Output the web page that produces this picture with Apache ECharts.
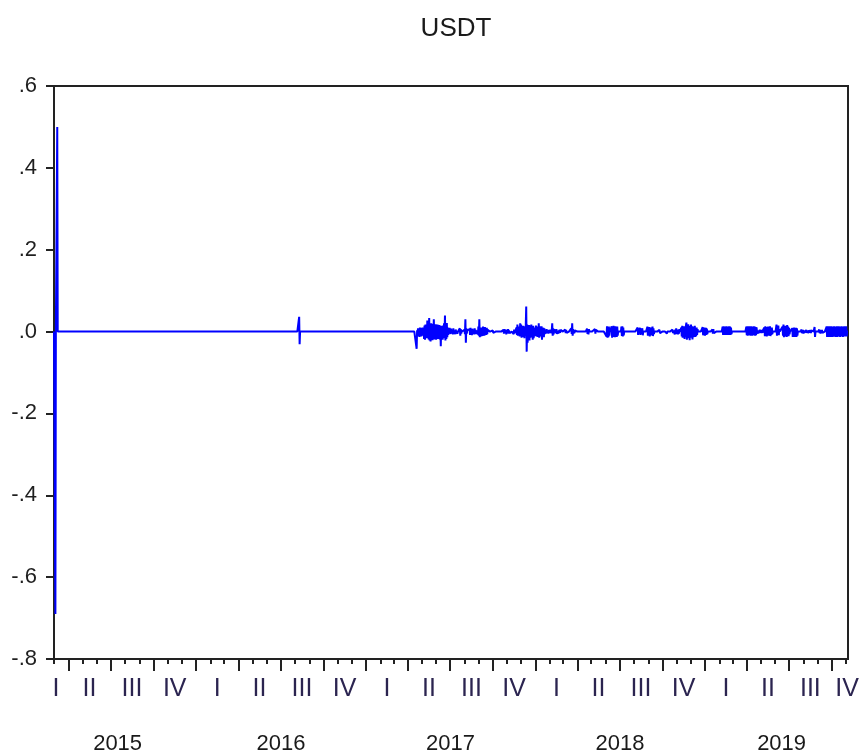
<!DOCTYPE html>
<html><head><meta charset="utf-8">
<script src="https://cdn.jsdelivr.net/npm/echarts@6/dist/echarts.min.js"></script>
<style>html,body{margin:0;padding:0;background:#fff}#c{width:859px;height:756px}</style>
</head><body><div id="c"></div>
<script>
// ---------- data ----------
const chartTitle = 'USDT';
const axisStart = '2015-03-01';
const axisEnd = '2019-11-05';
const yMin = -0.8, yMax = 0.6, yStep = 0.2;
const quarterNames = ['I', 'II', 'III', 'IV'];
const years = [2015, 2016, 2017, 2018, 2019];
const yearLabelDates = ['2015-07-16', '2016-07-02', '2017-07-02', '2018-07-02', '2019-06-15'];

// Daily returns: each run starts at a date and lists consecutive daily values; other days are 0.
const clusterStarts = [
  '2015-03-04', '2015-03-08', '2016-08-10',
  '2017-04-20', '2017-07-22', '2017-08-01', '2017-08-12', '2017-08-29', '2017-10-01', '2017-10-24',
  '2017-11-15', '2017-11-21', '2018-01-22', '2018-02-06', '2018-02-13', '2018-03-06', '2018-03-19',
  '2018-04-22', '2018-05-09', '2018-06-03', '2018-06-14', '2018-07-05', '2018-08-09', '2018-08-30',
  '2018-09-25', '2018-10-10', '2018-10-23', '2018-10-27', '2018-11-11', '2018-12-27', '2019-01-17',
  '2019-02-08', '2019-03-21', '2019-03-31', '2019-04-24', '2019-05-09', '2019-06-04', '2019-06-17',
  '2019-07-08', '2019-07-28', '2019-08-07', '2019-08-25', '2019-09-04', '2019-09-20'
];
const clusterValues = [
  [-0.69], [0.50], [0.036, -0.031],
  [-0.042, 0.003, -0.004,
   0.008, -0.011, 0.006, -0.013, 0.010, -0.007, 0.009, -0.012, 0.005, -0.010, 0.010, -0.006, 0.008,
   -0.018, 0.015, -0.020, 0.017, -0.012, 0.014, -0.016,
   0.027, -0.015, 0.018, -0.019,
   0.033, -0.022, 0.016, -0.024, 0.020, -0.014, 0.019, -0.021, 0.012,
   -0.017, 0.030, -0.019, 0.014, -0.016,
   0.018, -0.020, 0.012, -0.015, 0.017, -0.018, 0.010, -0.013, 0.016, -0.019, 0.011,
   -0.036, 0.014, -0.017, 0.012, -0.020, 0.015, -0.012,
   0.020, -0.016, 0.039, -0.022, 0.017, -0.018, 0.021, -0.014, 0.010,
   -0.008, 0.006, -0.005, 0.009, 0, -0.006, 0.007, -0.004, 0.005, 0, -0.007, 0.008, -0.005, 0, 0.004, -0.006, 0.005, 0, -0.003, 0.004, -0.005],
  [0.008, -0.010, 0.006, -0.005],
  [0.004, -0.006, 0.030, -0.027, 0.008, -0.005, 0.003],
  [0.006, -0.008, 0.009, -0.004, 0.005, -0.009, 0.007, -0.006, 0, 0.005, -0.007, 0.008, -0.005, 0.004, -0.006, 0.003],
  [0.005, -0.007, 0.012, -0.010, 0.030, -0.014, 0.009, -0.012, 0.010, -0.008, 0.007, -0.011, 0.012, -0.009, 0.008, -0.010, 0.011, -0.007, 0.006, -0.008, 0.009, -0.006, 0.004],
  [0.003, -0.003],
  [0.004, -0.005, 0.006, -0.003, 0, 0.005, -0.007, 0.004, -0.004, 0, 0.006, -0.005, 0.003, -0.004],
  [-0.006, 0.005, -0.004],
  [0.010, -0.008, 0.017, -0.010, 0.012, -0.006, 0.009,
   -0.012, 0.020, -0.009,
   0.017, -0.015, 0.011, -0.013, 0.014,
   -0.010, 0.013, -0.016, 0.012, -0.011, 0.015,
   0.061, -0.049,
   0.017, -0.027, 0.014, -0.018, 0.016, -0.022, 0.013, -0.015,
   0.012, 0.017, -0.014, 0.011, -0.020, 0.014, -0.016, 0.010,
   -0.012, 0.009, -0.010, 0.015, -0.011, 0.012, -0.013,
   0.010, -0.009, 0.020, -0.015, 0.013, -0.012, 0.011, -0.010,
   0.013, -0.020, 0.010, -0.012, 0.009, -0.014, 0.008, -0.006],
  [0.004, -0.005, 0, 0.006, -0.004, 0, 0.003, -0.005, 0.004, 0, -0.003, 0.005, -0.004, 0, 0.003],
  [0.020, -0.010, 0.008, -0.007, 0.006],
  [0.005, -0.004, 0.006, -0.006, 0, 0.004, -0.005, 0.003, -0.004, 0.005, -0.003, 0.004],
  [0.005, -0.004, 0.004, -0.003],
  [0.008, -0.006, 0.020, -0.010, 0.006, -0.005, 0.004, -0.004, 0.003],
  [0.007, -0.006, 0.005, -0.007, 0.006],
  [0.006, -0.005, 0.004],
  [-0.012, 0.013, -0.015, 0.011, -0.014, 0.012, -0.010],
  [0.013, -0.015, 0.012, -0.013, 0.014, -0.011, 0.010, -0.014, 0.013, -0.012, 0.011, -0.013, 0.012, -0.010],
  [0.012, -0.011, 0.013, -0.012, 0.010, -0.009],
  [0.010, -0.008, 0, 0, 0, 0.009, -0.008, 0, 0, 0, 0.008, -0.009],
  [0.012, -0.010, 0, 0, 0.011, -0.012, 0, 0.010, -0.009, 0, 0, 0.012, -0.011, 0.008, -0.006],
  [0.004, -0.004],
  [0.004, -0.005],
  [0.005, -0.004, 0.003],
  [0.006, -0.007, 0.005, -0.004, 0.008, -0.006, 0, 0.005, -0.007, 0.004, -0.005, 0.006],
  [0.010, -0.012, 0.014, -0.015, 0.012, -0.010, 0.013, -0.018, 0.011, -0.014, 0.015, 0.022, -0.020, 0.016, -0.013, 0.018, -0.016, 0.012, -0.021, 0.014, -0.012, 0.017, -0.015, 0.013, -0.019, 0.011, -0.014, 0.012, -0.010, 0.014, -0.013, 0.009, -0.011, 0.010, -0.008, 0.006],
  [0.011, -0.009, 0, 0, 0.010, -0.010, 0, 0.009, -0.008, 0.007, -0.006],
  [0.005, -0.005, 0.006, -0.004],
  [0.012, -0.008, 0.013, -0.007, 0.011, -0.008, 0.012, -0.007, 0.013, -0.008, 0.012, -0.007, 0.011, -0.008, 0.013, -0.007, 0.012, -0.008, 0.010, -0.006],
  [0.003, -0.003],
  [0.012, -0.009, 0.013, -0.010, 0.011, -0.009, 0.013, -0.008, 0.012, -0.010, 0.013, -0.009, 0.011, -0.010, 0.012, -0.009, 0.013, -0.008, 0.012, -0.010, 0.011, -0.009, 0.010],
  [0.004, -0.005, 0.003, 0, -0.004, 0.005, -0.003, 0, 0.004, -0.004, 0.003, -0.003, 0.004],
  [0.010, -0.011, 0.013, -0.009, 0.008, -0.012, 0.011, -0.008, 0.012, -0.010, 0.006, -0.007, 0.013, -0.011, 0.009, -0.008, 0.010, -0.006],
  [0.017, -0.010, 0.008, -0.006, 0.015, -0.009, 0.006],
  [0.012, -0.010, 0.017, -0.014, 0.011, -0.009, 0.014, -0.012, 0.010, -0.013, 0.016, -0.008, 0.012, -0.011, 0.009, -0.007],
  [0.008, -0.013, 0.009, -0.012, 0.010, -0.013, 0.008, -0.012, 0.009, -0.013, 0.008, -0.010],
  [0.005, -0.004, 0, 0.004, -0.005, 0.003, -0.003],
  [0.004, -0.003, 0, 0.003, -0.004, 0, 0.003, -0.003, 0, 0.004, -0.004, 0.003],
  [0.011, -0.013],
  [0.005, -0.004, 0.004, -0.005, 0.003, -0.004, 0.004, -0.003],
  [0.012, -0.013, 0.013, -0.012, 0.011, -0.013, 0.013, -0.011, 0.012, -0.013, 0.013, -0.012, 0.011, -0.013, 0.012, -0.012, 0.013, -0.011, 0.012, -0.013, 0.011, -0.012, 0.013, -0.013, 0.012, -0.011, 0.013, -0.012, 0.011, -0.013, 0.012, -0.012, 0.013, -0.011, 0.012, -0.013, 0.011, -0.012, 0.013, -0.012, 0.012, -0.011, 0.013, -0.012]
];

// ---------- build ----------
const DAY = 86400000;
function d(s) { const p = s.split('-').map(Number); return Date.UTC(p[0], p[1] - 1, p[2]); }
const t0 = d(axisStart), t1 = d(axisEnd);
const valueByDay = new Map();
clusterStarts.forEach((s, i) => {
  const b = d(s);
  clusterValues[i].forEach((v, j) => valueByDay.set(b + j * DAY, v));
});
const seriesData = [];
for (let t = t0; t <= t1; t += DAY) seriesData.push([t, valueByDay.has(t) ? valueByDay.get(t) : 0]);

// tick positions
const monthTicks = [], quarterTicks = [];
for (let y = 2015; y <= 2019; y++) for (let m = 0; m < 12; m++) {
  const t = Date.UTC(y, m, 1);
  if (t < t0 || t > t1) continue;
  monthTicks.push(t);
  if (m % 3 === 0) quarterTicks.push(t);
}
const qLabelVals = [], qLabelTexts = [];
years.forEach(y => {
  for (let q = 0; q < 4; q++) {
    let mid = (Date.UTC(y, q * 3, 1) + Date.UTC(y, q * 3 + 3, 1)) / 2;
    if (mid < t0) mid = t0 + 4 * DAY;
    if (mid > t1) mid = t1 - 2 * DAY;
    qLabelVals.push(mid); qLabelTexts.push(quarterNames[q]);
  }
});
const yLabelVals = yearLabelDates.map(d);

const FONT = 'Liberation Sans, Arial, Helvetica, sans-serif';
const AX = '#222222';
function lookup(vals, texts) {
  return v => { const i = vals.findIndex(x => Math.abs(x - v) < 60000); return i >= 0 ? String(texts[i]) : ''; };
}

const chart = echarts.init(document.getElementById('c'), null, { renderer: 'canvas' });
chart.setOption({
  animation: false,
  backgroundColor: '#ffffff',
  title: {
    text: chartTitle, left: 451, top: 11, textAlign: 'center',
    textStyle: { fontFamily: FONT, fontSize: 26, fontWeight: 'normal', color: '#1a1a1a' }
  },
  grid: { left: 54, right: 11, top: 86, bottom: 97, containLabel: false, outerBoundsMode: 'none',
          show: true, borderColor: AX, borderWidth: 2, backgroundColor: 'transparent' },
  xAxis: [
    {
      type: 'value', position: 'bottom', min: t0, max: t1, scale: true,
      axisLine: { show: true, onZero: false, lineStyle: { color: AX, width: 2 } },
      axisTick: { show: true, customValues: monthTicks, length: 5, lineStyle: { color: AX, width: 2 } },
      axisLabel: { show: true, customValues: qLabelVals, formatter: lookup(qLabelVals, qLabelTexts),
                   margin: 18, fontFamily: FONT, fontSize: 25, color: '#2b2450' },
      splitLine: { show: false }
    },
    {
      type: 'value', position: 'bottom', min: t0, max: t1, scale: true,
      axisLine: { show: false, onZero: false },
      axisTick: { show: true, customValues: quarterTicks, length: 12, lineStyle: { color: AX, width: 2 } },
      axisLabel: { show: true, customValues: yLabelVals, formatter: lookup(yLabelVals, years),
                   margin: 74, fontFamily: FONT, fontSize: 22, color: '#1a1a1a' },
      splitLine: { show: false }
    }
  ],
  yAxis: [
    {
      type: 'value', position: 'left', min: yMin, max: yMax, interval: yStep,
      axisLine: { show: true, onZero: false, lineStyle: { color: AX, width: 2 } },
      axisTick: { show: true, length: 8, lineStyle: { color: AX, width: 2 } },
      axisLabel: {
        margin: 17, fontFamily: FONT, fontSize: 22, color: '#1f1f1f',
        formatter: v => (v < -1e-9 ? '-' : '') + Math.abs(v).toFixed(1).replace(/^0/, '')
      },
      splitLine: { show: false }
    }
  ],
  series: [{
    type: 'line', xAxisIndex: 0, yAxisIndex: 0, data: seriesData,
    showSymbol: false, symbol: 'none', smooth: false,
    lineStyle: { color: '#0000ff', width: 2 }, itemStyle: { color: '#0000ff' }
  }]
});
</script>
</body></html>
